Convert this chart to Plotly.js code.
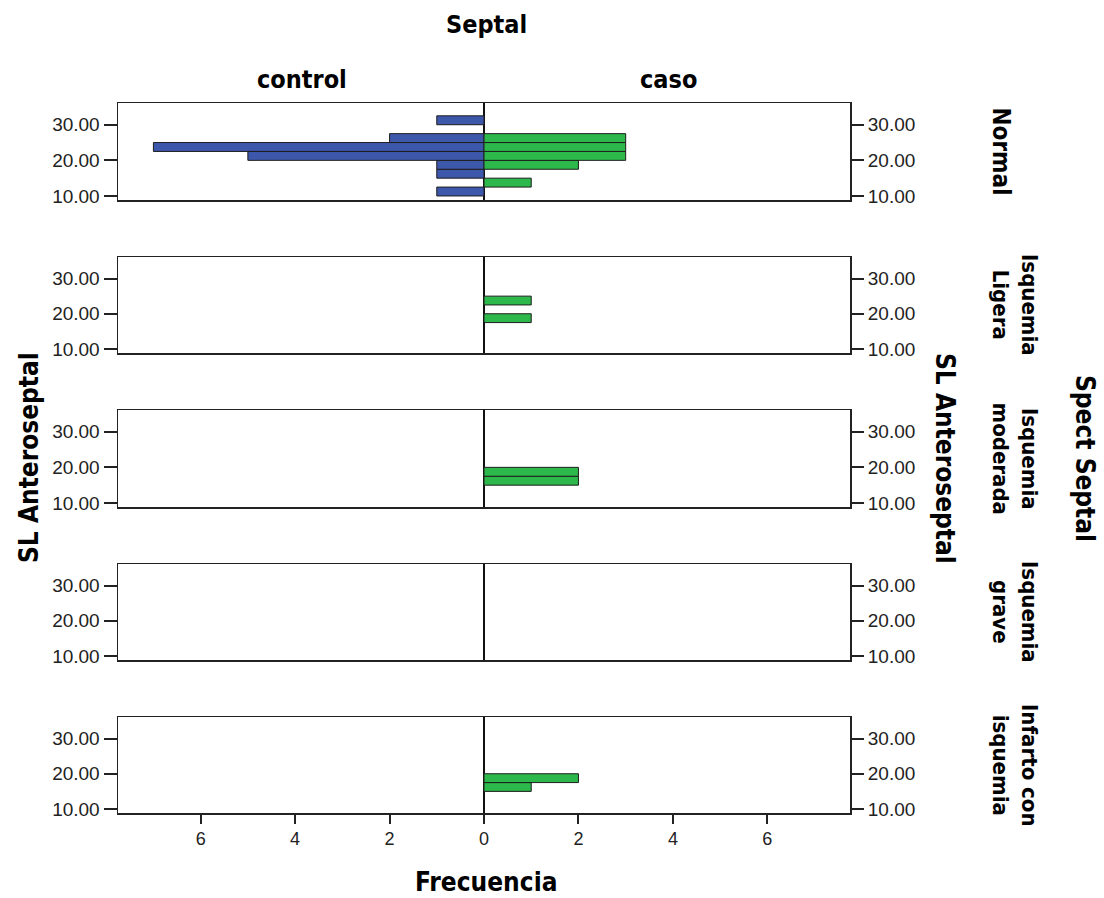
<!DOCTYPE html>
<html>
<head>
<meta charset="utf-8">
<script src="https://cdn.plot.ly/plotly-3.0.1.min.js"></script>
<style>html,body{margin:0;padding:0;background:#fff;}#chart{width:1104px;height:898px;}</style>
</head>
<body>
<div id="chart"></div>
<script>
// Bin centres of SL Anteroseptal (bin width 2.5)
const binCenters = [11.25, 13.75, 16.25, 18.75, 21.25, 23.75, 26.25, 28.75, 31.25];
const rowLabels = ['Normal', 'Isquemia<br>Ligera', 'Isquemia<br>moderada', 'Isquemia<br>grave', 'Infarto con<br>isquemia'];
const groupLabels = ['control', 'caso'];
// Frequencies per bin, by Spect Septal row
const controlNormal   = [1, 0, 1, 1, 5, 7, 2, 0, 1];
const casoNormal      = [0, 1, 0, 2, 3, 3, 3, 0, 0];
const controlLigera   = [0, 0, 0, 0, 0, 0, 0, 0, 0];
const casoLigera      = [0, 0, 0, 1, 0, 1, 0, 0, 0];
const controlModerada = [0, 0, 0, 0, 0, 0, 0, 0, 0];
const casoModerada    = [0, 0, 2, 2, 0, 0, 0, 0, 0];
const controlGrave    = [0, 0, 0, 0, 0, 0, 0, 0, 0];
const casoGrave       = [0, 0, 0, 0, 0, 0, 0, 0, 0];
const controlInfarto  = [0, 0, 0, 0, 0, 0, 0, 0, 0];
const casoInfarto     = [0, 0, 1, 2, 0, 0, 0, 0, 0];
const yTicks = [10, 20, 30];
const yTickText = ['10.00', '20.00', '30.00'];
const xTicks = [-6, -4, -2, 0, 2, 4, 6];
const xTickText = ['6', '4', '2', '0', '2', '4', '6'];

const controlRows = [controlNormal, controlLigera, controlModerada, controlGrave, controlInfarto];
const casoRows = [casoNormal, casoLigera, casoModerada, casoGrave, casoInfarto];

const W = 1104, H = 898;
const plotLeft = 118, plotRight = 850;
const tops = [103, 257, 410, 564, 717];
const bottoms = [200, 353, 507, 660, 813];
const blue = '#3d57ab', green = '#2cb84a', edge = '#1e1e1e', axisCol = '#222';
const tickFont = {family: 'Liberation Sans', size: 19, color: '#222'};
const xTickFont = {family: 'Liberation Sans Narrow, Liberation Sans', size: 18, color: '#222'};
const boldFam = 'DejaVu Sans Condensed, DejaVu Sans';
const boldFont = {family: boldFam, size: 23, color: '#000', weight: 'bold'};

const traces = [];
const layout = {
  width: W, height: H,
  margin: {l: 0, r: 0, t: 0, b: 0},
  paper_bgcolor: '#fff', plot_bgcolor: '#fff',
  showlegend: false,
  barmode: 'overlay',
  annotations: [],
  shapes: []
};
const toNull = a => a.map(v => v === 0 ? null : v);

for (let i = 0; i < 5; i++) {
  const n = i + 1;
  const xa = 'x' + n, ya = 'y' + n, yr = 'y' + (n + 5);
  traces.push({
    type: 'bar', orientation: 'h', xaxis: xa, yaxis: ya,
    y: binCenters, x: toNull(controlRows[i].map(v => -v)), width: 2.5,
    marker: {color: blue, line: {color: edge, width: 1}}, hoverinfo: 'skip'
  });
  traces.push({
    type: 'bar', orientation: 'h', xaxis: xa, yaxis: ya,
    y: binCenters, x: toNull(casoRows[i]), width: 2.5,
    marker: {color: green, line: {color: edge, width: 1}}, hoverinfo: 'skip'
  });
  traces.push({
    type: 'scatter', mode: 'markers', xaxis: xa, yaxis: yr,
    x: [0], y: [20], marker: {opacity: 0, size: 1}, hoverinfo: 'skip'
  });
  const dom = [1 - bottoms[i] / H, 1 - tops[i] / H];
  const last = i === 4;
  layout['xaxis' + n] = {
    domain: [plotLeft / W, plotRight / W], anchor: ya, range: [-7.75, 7.75],
    tickvals: xTicks, ticktext: xTickText, showticklabels: last,
    ticks: last ? 'outside' : '', ticklen: 9, tickwidth: 2, tickcolor: axisCol,
    tickfont: xTickFont, showgrid: false,
    zeroline: true, zerolinecolor: '#111', zerolinewidth: 2.5,
    showline: true, mirror: true, linecolor: axisCol, linewidth: 1.5, fixedrange: true
  };
  layout['yaxis' + n] = {
    domain: dom, anchor: xa, range: [8.87, 36.1],
    tickvals: yTicks, ticktext: yTickText, ticks: 'outside', ticklen: 13, tickwidth: 2,
    tickcolor: axisCol, tickfont: tickFont, showgrid: false, zeroline: false,
    showline: true, mirror: true, linecolor: axisCol, linewidth: 1.5, fixedrange: true
  };
  layout['yaxis' + (n + 5)] = {
    overlaying: ya, anchor: xa, side: 'right', range: [8.87, 36.1],
    tickvals: yTicks, ticktext: yTickText, ticks: 'outside', ticklen: 13, tickwidth: 2,
    tickcolor: axisCol, tickfont: tickFont, showgrid: false, zeroline: false,
    showline: false, fixedrange: true
  };
  const twoLines = rowLabels[i].indexOf('<br>') >= 0;
  layout.annotations.push({
    xref: 'paper', yref: 'paper', x: (twoLines ? 1015 : 1001) / W, y: 1 - ((tops[i] + bottoms[i]) / 2) / H,
    text: rowLabels[i], showarrow: false, textangle: 90,
    font: Object.assign({}, boldFont, {size: twoLines ? 22 : 24}),
    xanchor: 'center', yanchor: 'middle'
  });
}

const midY = 1 - ((tops[0] + bottoms[4]) / 2) / H;
const f25 = Object.assign({}, boldFont, {size: 25});
const f26 = Object.assign({}, boldFont, {size: 26});
layout.annotations.push(
  {xref: 'paper', yref: 'paper', x: 486 / W, y: 1 - 25 / H, text: 'Septal', showarrow: false, font: f25, xanchor: 'center', yanchor: 'middle'},
  {xref: 'paper', yref: 'paper', x: 302 / W, y: 1 - 80 / H, text: groupLabels[0], showarrow: false, font: f25, xanchor: 'center', yanchor: 'middle'},
  {xref: 'paper', yref: 'paper', x: 668 / W, y: 1 - 80 / H, text: groupLabels[1], showarrow: false, font: f25, xanchor: 'center', yanchor: 'middle'},
  {xref: 'paper', yref: 'paper', x: 486 / W, y: 1 - 882 / H, text: 'Frecuencia', showarrow: false, font: f26, xanchor: 'center', yanchor: 'middle'},
  {xref: 'paper', yref: 'paper', x: 29 / W, y: midY, text: 'SL Anteroseptal', showarrow: false, textangle: -90, font: f26, xanchor: 'center', yanchor: 'middle'},
  {xref: 'paper', yref: 'paper', x: 945 / W, y: midY, text: 'SL Anteroseptal', showarrow: false, textangle: 90, font: f26, xanchor: 'center', yanchor: 'middle'},
  {xref: 'paper', yref: 'paper', x: 1085 / W, y: midY, text: 'Spect Septal', showarrow: false, textangle: 90, font: f26, xanchor: 'center', yanchor: 'middle'}
);

Plotly.newPlot('chart', traces, layout, {staticPlot: true});
</script>
</body>
</html>
